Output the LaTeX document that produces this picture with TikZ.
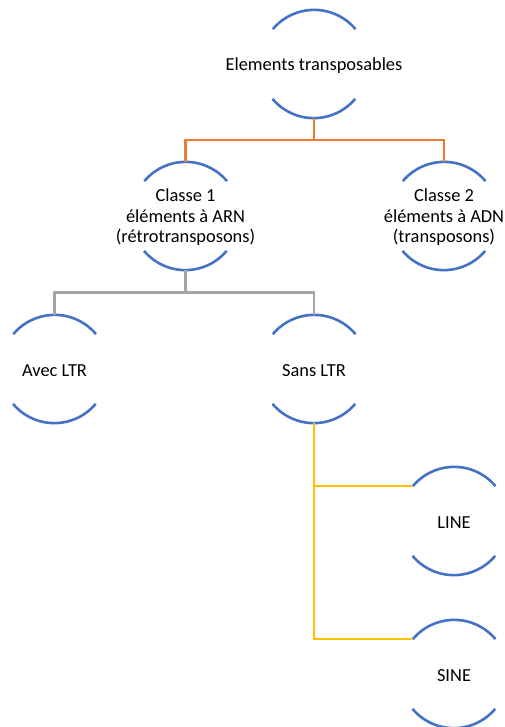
\documentclass[tikz,border=0pt]{standalone}
\usepackage{fontspec}
\setmainfont{Carlito}
\usepackage{tikz}
\usetikzlibrary{positioning, calc}
\definecolor{arcblue}{HTML}{4472C4}
\definecolor{linkorange}{HTML}{ED7D31}
\definecolor{linkgrey}{HTML}{A5A5A5}
\definecolor{linkyellow}{HTML}{FFC000}

\begin{document}
\begin{tikzpicture}[
    x=1pt, y=1pt,
    ring/.style={circle, minimum size=108pt, inner sep=0pt},
    caption/.style={align=center, inner sep=0pt, yshift=-1.5pt,
                    font=\fontsize{18.4}{20.5}\selectfont},
    arcline/.style={draw=arcblue, line width=2.6pt},
    link/.style={line width=2.6pt},
]
\useasboundingbox (0,0) rectangle (505,-727);

% Level 0
\node[ring] (root) at (314, -64) {};
\node[caption] (roottext) at (root) {Elements transposables};

% Level 1: the two classes
\node[ring] (classA) at (185.5, -216) {};
\node[caption] (classAtext) at (classA) {Classe 1\\éléments à ARN\\(rétrotransposons)};
\node[ring] (classB) at (444, -216) {};
\node[caption] (classBtext) at (classB) {Classe 2\\éléments à ADN\\(transposons)};

% Level 2: children of Classe 1
\node[ring] (withltr) at (54.5, -369) {};
\node[caption] (withltrtext) at (withltr) {Avec LTR};
\node[ring] (noltr) at (314, -369) {};
\node[caption] (noltrtext) at (noltr) {Sans LTR};

% Level 3: children of Sans LTR
\node[ring] (line) at (454, -521) {};
\node[caption] (linetext) at (line) {LINE};
\node[ring] (sine) at (454, -674) {};
\node[caption] (sinetext) at (sine) {SINE};

% the two arcs round each node
\foreach \n in {root, classA, classB, withltr, noltr, line, sine} {
    \draw[arcline] (\n.40) arc[start angle=40, end angle=140, radius=54pt];
    \draw[arcline] (\n.220) arc[start angle=220, end angle=320, radius=54pt];
}

% root -> classes
\draw[link, linkorange] (root.south) -- ++(0,-22) -| (classA.north);
\draw[link, linkorange] (root.south) -- ++(0,-22) -| (classB.north);

% Classe 1 -> with / without LTR
\draw[link, linkgrey] (classA.south) -- ++(0,-22.5) -| (withltr.north);
\draw[link, linkgrey] (classA.south) -- ++(0,-22.5) -| (noltr.north);

% Sans LTR -> LINE / SINE
\draw[link, linkyellow] (noltr.south) |- (line.140);
\draw[link, linkyellow] (noltr.south) |- (sine.140);

\end{tikzpicture}
\end{document}
